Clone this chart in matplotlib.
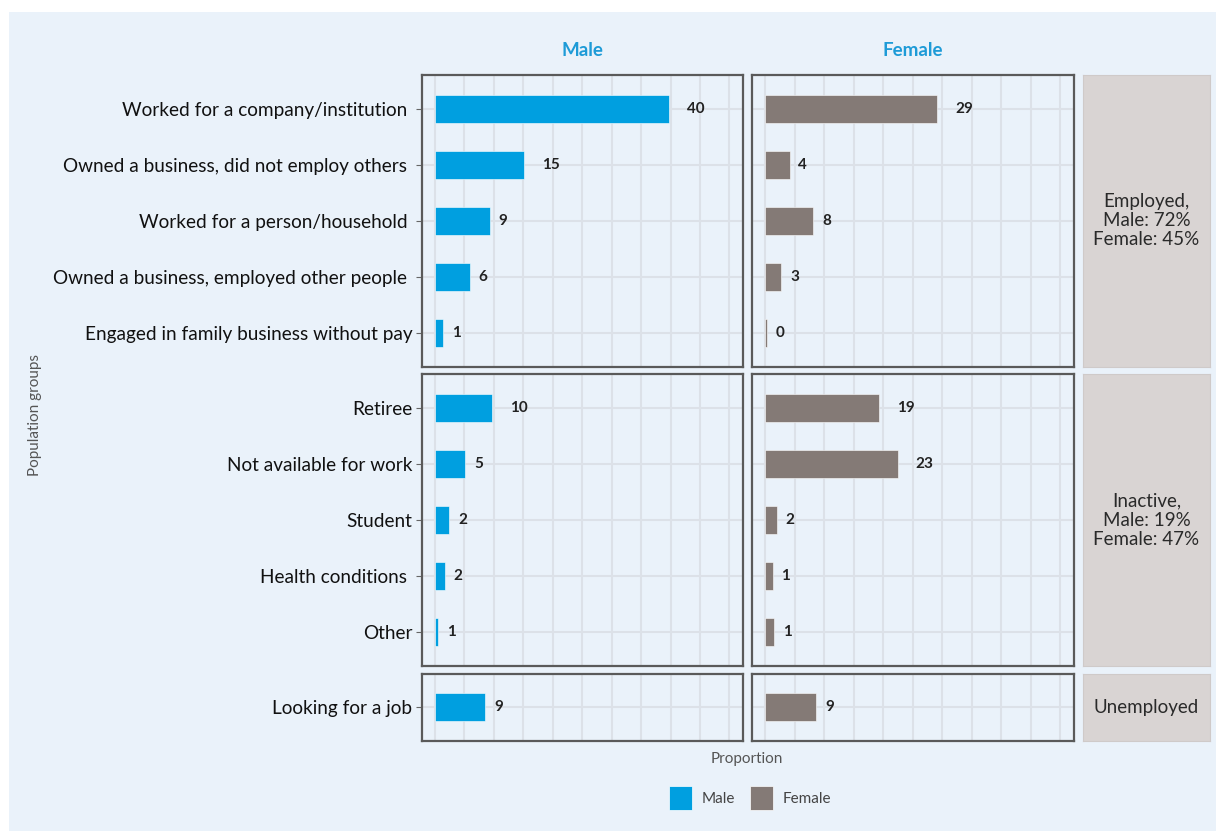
"""Employment status by population group, male vs female (faceted bars)."""

import numpy as np
import matplotlib
matplotlib.use('Agg')
import matplotlib.pyplot as plt
from matplotlib.patches import Rectangle

plt.rcParams['font.family'] = ['Lato', 'DejaVu Sans']

# data -------------------------------------------------------------------
groups = ['Employed,\nMale: 72%\nFemale: 45%',
          'Inactive,\nMale: 19%\nFemale: 47%',
          'Unemployed']

employed_cats = ['Worked for a company/institution ',
                 'Owned a business, did not employ others ',
                 'Worked for a person/household ',
                 'Owned a business, employed other people ',
                 'Engaged in family business without pay']
inactive_cats = ['Retiree', 'Not available for work', 'Student',
                 'Health conditions ', 'Other']
unemployed_cats = ['Looking for a job']

# bar lengths as drawn (percent) and the rounded labels printed next to them
male_employed = [39.8, 15.2, 9.3, 5.9, 1.4]
male_inactive = [9.7, 5.1, 2.4, 1.7, 0.5]
male_unemployed = [8.5]
female_employed = [29.2, 4.1, 8.1, 2.7, 0.2]
female_inactive = [19.3, 22.5, 1.9, 1.2, 1.5]
female_unemployed = [8.6]

male_labels = [[40, 15, 9, 6, 1], [10, 5, 2, 2, 1], [9]]
female_labels = [[29, 4, 8, 3, 0], [19, 23, 2, 1, 1], [9]]

sexes = ['Male', 'Female']

# style ------------------------------------------------------------------
BG = '#eaf2fa'
BLUE = '#009fe0'
GREY = '#847a76'
STRIP = '#d9d4d3'
GRID = '#dce1e8'
TITLE_BLUE = '#1e9bd7'

cats = [employed_cats, inactive_cats, unemployed_cats]
values = {'Male': [male_employed, male_inactive, male_unemployed],
          'Female': [female_employed, female_inactive, female_unemployed]}
labels = {'Male': male_labels, 'Female': female_labels}
colors = {'Male': BLUE, 'Female': GREY}

W, H = 1216, 831
fig = plt.figure(figsize=(W / 100, H / 100), dpi=100, facecolor='white')
fig.patches.append(Rectangle((9 / W, 0), 1 - 9 / W, 1 - 12 / H,
                             transform=fig.transFigure, facecolor=BG,
                             edgecolor='none', zorder=-10))

gs = fig.add_gridspec(3, 3, left=422 / W, right=1210 / W,
                      top=1 - 75 / H, bottom=1 - 741 / H,
                      height_ratios=[5.2, 5.2, 1.2],
                      width_ratios=[321, 321, 127],
                      hspace=0.035, wspace=0.037)

for r, cat in enumerate(cats):
  y = np.arange(len(cat))
  for c, sex in enumerate(sexes):
    ax = fig.add_subplot(gs[r, c])
    ax.set_facecolor(BG)
    ax.barh(y, values[sex][r], height=0.5, color=colors[sex],
            edgecolor='white', linewidth=0.4, zorder=3)
    for yi, v, lab in zip(y, values[sex][r], labels[sex][r]):
      s = str(lab)
      ax.annotate(s, (v, yi), xytext=(6.4 * len(s), 0),
                  textcoords='offset points', ha='left', va='center',
                  fontsize=11, fontweight='bold', color='#222222', zorder=4)
    ax.set_xlim(-2.2, 52.3)
    ax.set_ylim(len(cat) - 0.4, -0.6)
    ax.set_xticks(np.arange(0, 51, 10))
    ax.set_xticks(np.arange(5, 51, 10), minor=True)
    ax.set_yticks(y)
    ax.grid(True, which='both', axis='x', color=GRID, linewidth=1.5, zorder=0)
    ax.grid(True, which='major', axis='y', color=GRID, linewidth=1.5, zorder=0)
    ax.tick_params(axis='x', which='both', length=0, labelbottom=False)
    ax.tick_params(axis='y', length=4, width=0.8, color='#666666', pad=3)
    if c == 0:
      ax.set_yticklabels(cat, fontsize=13.7, color='#111111')
    else:
      ax.tick_params(axis='y', length=0, labelleft=False)
    for sp in ax.spines.values():
      sp.set_color('#5a5a5a')
      sp.set_linewidth(1.6)
    if r == 0:
      ax.set_title(sex, fontsize=13.5, fontweight='bold', color=TITLE_BLUE,
                   pad=14)

  sax = fig.add_subplot(gs[r, 2])
  sax.set_facecolor(STRIP)
  sax.set_xticks([])
  sax.set_yticks([])
  for sp in sax.spines.values():
    sp.set_color('#cfcac9')
    sp.set_linewidth(0.8)
  sax.text(0.5, 0.5, groups[r], transform=sax.transAxes, ha='center',
           va='center', fontsize=13.5, color='#2a2a2a', linespacing=1.15)

fig.text(35 / W, 1 - 415 / H, 'Population groups', rotation=90,
         ha='center', va='center', fontsize=11, color='#555555')
fig.text(747 / W, 1 - 759 / H, 'Proportion', ha='center', va='center',
         fontsize=11, color='#555555')

handles = [Rectangle((0, 0), 1, 1, facecolor=colors[s], edgecolor='white',
                     linewidth=0.5) for s in sexes]
fig.legend(handles, sexes, loc='center', bbox_to_anchor=(750 / W, 1 - 798 / H),
           ncol=2, frameon=False, fontsize=11, handlelength=1.5,
           handleheight=2.0, columnspacing=1.0, handletextpad=0.6,
           labelcolor='#444444')

fig.savefig('out.png', dpi=100, facecolor='white')
